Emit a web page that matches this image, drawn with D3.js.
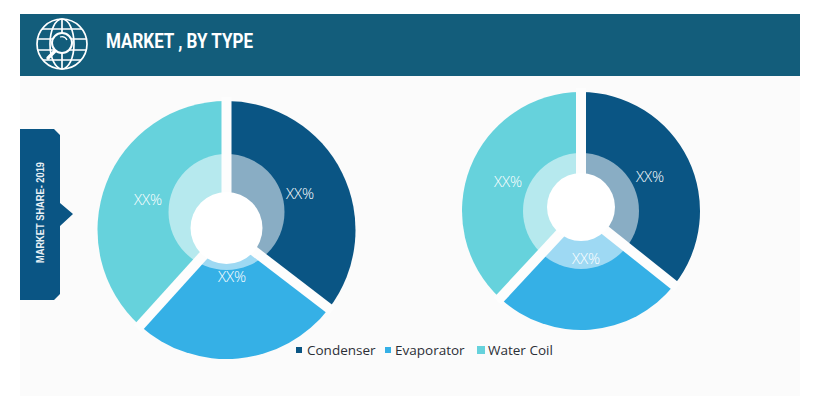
<!DOCTYPE html>
<html><head><meta charset="utf-8">
<script src="https://cdnjs.cloudflare.com/ajax/libs/d3/7.8.5/d3.min.js"></script>
<style>html,body{margin:0;padding:0;background:#fff}svg{display:block}</style>
</head><body><svg id="c" width="830" height="396"></svg>
<script>
const categories = ["Condenser", "Evaporator", "Water Coil"];
const colors = ["#0a5584", "#35b0e6", "#66d2dc"];
const leftValues = [35.4, 26.3, 38.3];
const rightValues = [35.7, 26.2, 38.1];
const sliceLabels = ["XX%", "XX%", "XX%"];
const titleText = "MARKET , BY TYPE";
const sideText = "MARKET SHARE- 2019";

const svg = d3.select("#c");
svg.append("rect").attr("x",20).attr("y",76).attr("width",780).attr("height",320).attr("fill","#fbfbfb");
svg.append("rect").attr("x",20).attr("y",14).attr("width",780).attr("height",62).attr("fill","#135d7b");

// header icon
const icon = svg.append("g").attr("transform","translate(62,44)").attr("fill","none").attr("stroke","#fff").attr("stroke-width",1.7);
icon.append("circle").attr("r",25);
icon.append("ellipse").attr("rx",12).attr("ry",25);
[[-15,-20],[-5,-25],[6,-25],[16,-19]].forEach(([y,x])=>icon.append("line").attr("x1",x).attr("x2",-x).attr("y1",y).attr("y2",y));
icon.append("line").attr("x1",0).attr("x2",0).attr("y1",-25).attr("y2",25);
const glass = icon.append("g");
glass.append("circle").attr("cx",0).attr("cy",-1).attr("r",10).attr("fill","#135d7b").attr("stroke-width",2);
glass.append("path").attr("d","M-2,-7A6,6 0 0 1 5,-4").attr("stroke-width",1.2);
glass.append("line").attr("x1",-7).attr("y1",7).attr("x2",-14).attr("y2",14).attr("stroke-width",3.4).attr("stroke-linecap","round");

svg.append("text").attr("x",106).attr("y",48).attr("fill","#fff")
  .attr("font-family","'Roboto','Liberation Sans',sans-serif")
  .attr("font-weight",700).attr("font-size",21)
  .attr("textLength",147).attr("lengthAdjust","spacingAndGlyphs").text(titleText);

// side tab
svg.append("polygon").attr("points","20,129 54,129 60,135 60,203 73,214 60,226 60,294 54,300 20,300").attr("fill","#0a5584");
svg.append("text").attr("transform","translate(44,263) rotate(-90)")
  .attr("fill","#e8f0f5").attr("font-family","'Liberation Sans',sans-serif")
  .attr("font-weight",700).attr("font-size",11.5)
  .attr("textLength",101).attr("lengthAdjust","spacingAndGlyphs").text(sideText);

const pies = [
  {values:leftValues, cx:226.5, cy:230, R:129, ringY:212, ringR:58, holeY:228, holeR:36, labelPos:[[73.5,-36],[5.5,47],[-78.5,-30]]},
  {values:rightValues, cx:581, cy:211, R:119, ringY:211, ringR:58, holeY:207, holeR:34, labelPos:[[69,-34],[5,48],[-73,-29]]}
];
const pieGen = d3.pie().sort(null).value(d=>d);
pies.forEach(p=>{
  const g = svg.append("g").attr("transform",`translate(${p.cx},${p.cy})`);
  const arcs = pieGen(p.values);
  const arc = d3.arc().innerRadius(0).outerRadius(p.R);
  g.selectAll("path.s").data(arcs).join("path").attr("class","s").attr("d",arc).attr("fill",(d,i)=>colors[i]);
  g.append("circle").attr("cy",p.ringY-p.cy).attr("r",p.ringR).attr("fill","#fff").attr("fill-opacity",0.52);
  g.selectAll("line.gap").data(arcs).join("line").attr("class","gap")
    .attr("x1",0).attr("y1",0)
    .attr("x2",d=>(p.R+4)*Math.sin(d.startAngle))
    .attr("y2",d=>-(p.R+4)*Math.cos(d.startAngle))
    .attr("stroke","#fdfdfd").attr("stroke-width",10);
  g.append("circle").attr("cy",p.holeY-p.cy).attr("r",p.holeR).attr("fill","#fff");
  g.selectAll("text").data(arcs).join("text")
    .attr("transform",(d,i)=>`translate(${p.labelPos[i][0]},${p.labelPos[i][1]})`)
    .attr("text-anchor","middle").attr("dy","0.36em").attr("fill","#fff")
    .attr("font-family","'Open Sans',sans-serif").attr("font-weight",300).attr("font-size",15)
    .text((d,i)=>sliceLabels[i]);
});

// legend
const legendX = [296, 385, 477], legendSize=[6,6,8], legendTextX=[307,395,488];
const lg = svg.append("g");
categories.forEach((c,i)=>{
  lg.append("rect").attr("x",legendX[i]).attr("y",350-legendSize[i]/2).attr("width",legendSize[i]).attr("height",legendSize[i]).attr("fill",colors[i]);
  lg.append("text").attr("x",legendTextX[i]).attr("y",355).attr("fill","#2b2f36")
    .attr("font-family","'Open Sans',sans-serif").attr("font-size",13.5).text(c);
});
</script></body></html>
